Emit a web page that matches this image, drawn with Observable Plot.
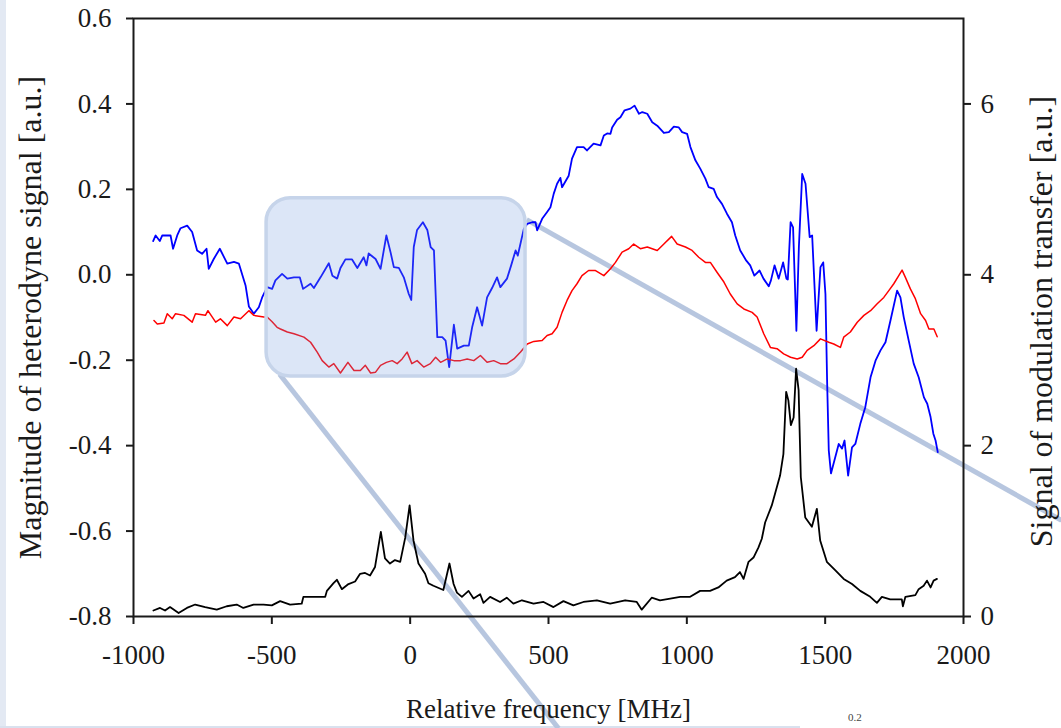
<!DOCTYPE html>
<html>
<head>
<meta charset="utf-8">
<script src="https://cdn.jsdelivr.net/npm/d3@7"></script>
<script src="https://cdn.jsdelivr.net/npm/@observablehq/plot@0.6"></script>
<style>
  html, body { margin: 0; padding: 0; background: #ffffff; width: 1061px; height: 728px; overflow: hidden; position: relative; }
  #strip { position: absolute; left: 0; top: 0; width: 6px; height: 728px; background: #e3e9f3; }
  #bstrip { position: absolute; left: 0; top: 726px; width: 800px; height: 2px; background: #d9e1ee; }
  #chart { position: absolute; left: 0; top: 0; }
  #frag { position: absolute; left: 848px; top: 711px; font: 11px "Liberation Serif", serif; line-height: 12px; color: #444; }
</style>
</head>
<body>
<div id="strip"></div>
<div id="bstrip"></div>
<div id="chart"></div>
<div id="frag">0.2</div>
<script>
// ---- data ----
const blueFreq = [-929,-920,-905,-896,-866,-857,-842,-830,-806,-788,-770,-752,-736,-728,-710,-688,-661,-637,-619,-595,-583,-565,-547,-535,-517,-499,-487,-463,-444,-420,-399,-387,-360,-348,-324,-294,-281,-264,-252,-234,-210,-191,-168,-158,-150,-125,-107,-86,-71,-59,-41,-23,-5,4,13,25,46,62,74,86,98,116,128,141,158,170,194,212,224,242,260,278,296,314,326,350,365,381,389,411,423,441,453,459,477,495,507,519,531,543,549,573,585,603,627,639,663,688,700,712,724,730,748,760,775,796,811,827,839,857,875,893,917,935,953,971,983,1001,1013,1031,1049,1067,1079,1097,1109,1127,1145,1163,1175,1193,1215,1229,1244,1263,1277,1296,1304,1317,1332,1348,1360,1365,1375,1384,1396,1405,1417,1429,1444,1453,1469,1483,1493,1501,1507,1513,1521,1549,1561,1570,1583,1597,1609,1627,1645,1664,1682,1700,1718,1736,1760,1772,1784,1802,1820,1838,1857,1869,1881,1891,1899,1907];
const blueMag = [0.079,0.092,0.079,0.092,0.092,0.061,0.092,0.109,0.115,0.100,0.057,0.049,0.061,0.014,0.037,0.061,0.026,0.030,0.026,-0.025,-0.074,-0.091,-0.076,-0.053,-0.029,-0.033,-0.013,0.002,-0.009,-0.006,-0.006,-0.033,-0.021,-0.031,-0.006,0.027,-0.002,-0.009,0.016,0.036,0.036,0.016,0.041,0.022,0.050,0.037,0.014,0.092,0.053,0.018,0.016,-0.006,-0.045,-0.059,0.065,0.105,0.123,0.105,0.065,0.057,-0.146,-0.146,-0.154,-0.216,-0.117,-0.173,-0.166,-0.166,-0.123,-0.076,-0.119,-0.053,-0.031,-0.006,-0.029,-0.009,0.022,0.057,0.045,0.108,0.119,0.123,0.123,0.104,0.131,0.147,0.158,0.190,0.213,0.227,0.205,0.232,0.272,0.299,0.299,0.291,0.307,0.303,0.326,0.331,0.330,0.345,0.363,0.369,0.385,0.389,0.396,0.377,0.381,0.377,0.357,0.349,0.332,0.334,0.347,0.345,0.334,0.330,0.299,0.268,0.248,0.225,0.205,0.201,0.182,0.166,0.143,0.123,0.092,0.057,0.033,0.022,-0.002,0.010,-0.009,-0.027,-0.013,0.022,-0.009,0.029,-0.009,-0.011,0.123,0.111,-0.131,0.065,0.236,0.213,0.088,0.092,-0.131,0.018,0.029,-0.045,-0.248,-0.411,-0.465,-0.396,-0.407,-0.388,-0.470,-0.404,-0.396,-0.349,-0.310,-0.240,-0.201,-0.177,-0.158,-0.107,-0.037,-0.053,-0.099,-0.154,-0.208,-0.240,-0.287,-0.302,-0.333,-0.372,-0.388,-0.415];

const redFreq = [-926,-914,-890,-878,-860,-848,-818,-788,-776,-740,-731,-703,-686,-661,-637,-613,-583,-565,-529,-517,-499,-481,-469,-444,-420,-384,-360,-336,-318,-294,-276,-252,-225,-203,-180,-162,-143,-125,-107,-86,-65,-47,-29,-11,6,25,49,73,92,110,134,158,182,206,230,254,278,302,326,350,375,399,423,447,477,495,513,531,549,567,585,603,621,645,670,700,724,742,766,790,808,832,857,893,917,945,965,995,1019,1043,1067,1085,1109,1134,1157,1182,1206,1236,1254,1278,1302,1326,1350,1375,1399,1417,1435,1459,1483,1513,1531,1555,1567,1591,1616,1640,1664,1688,1712,1730,1748,1766,1778,1790,1808,1826,1845,1863,1875,1893,1905];
const redMag = [-0.107,-0.115,-0.113,-0.091,-0.103,-0.091,-0.095,-0.111,-0.091,-0.095,-0.084,-0.111,-0.103,-0.119,-0.099,-0.103,-0.084,-0.095,-0.099,-0.099,-0.110,-0.123,-0.127,-0.134,-0.138,-0.146,-0.158,-0.181,-0.201,-0.216,-0.208,-0.230,-0.205,-0.224,-0.224,-0.212,-0.230,-0.228,-0.212,-0.205,-0.201,-0.208,-0.197,-0.181,-0.208,-0.201,-0.216,-0.208,-0.193,-0.205,-0.197,-0.201,-0.201,-0.197,-0.201,-0.189,-0.205,-0.201,-0.208,-0.208,-0.197,-0.181,-0.162,-0.156,-0.154,-0.142,-0.138,-0.123,-0.088,-0.060,-0.037,-0.021,-0.002,0.010,0.010,-0.002,0.014,0.029,0.053,0.061,0.072,0.061,0.065,0.057,0.072,0.090,0.072,0.065,0.057,0.041,0.029,0.029,0.006,-0.017,-0.045,-0.068,-0.080,-0.088,-0.099,-0.138,-0.170,-0.173,-0.185,-0.193,-0.197,-0.193,-0.177,-0.166,-0.150,-0.158,-0.162,-0.170,-0.146,-0.134,-0.111,-0.095,-0.084,-0.068,-0.053,-0.037,-0.021,-0.002,0.011,-0.006,-0.033,-0.056,-0.091,-0.107,-0.127,-0.127,-0.145];

const blackFreq = [-928,-904,-886,-868,-837,-807,-777,-741,-699,-663,-627,-603,-566,-530,-500,-470,-434,-392,-386,-361,-307,-301,-277,-265,-247,-223,-199,-181,-163,-145,-127,-106,-91,-73,-55,-36,-18,-2,12,30,54,66,84,120,142,157,169,187,211,229,253,265,289,325,349,373,404,446,482,518,554,590,626,675,723,777,819,837,873,903,940,976,1012,1048,1084,1114,1144,1174,1192,1205,1223,1241,1259,1271,1283,1307,1319,1337,1349,1359,1367,1376,1386,1395,1404,1412,1428,1452,1470,1482,1506,1537,1567,1597,1627,1663,1687,1705,1735,1777,1781,1790,1826,1838,1856,1868,1881,1892,1904];
const blackMT = [0.07,0.10,0.07,0.11,0.04,0.10,0.14,0.11,0.08,0.12,0.14,0.10,0.14,0.14,0.13,0.18,0.14,0.15,0.23,0.23,0.23,0.30,0.39,0.43,0.32,0.38,0.41,0.50,0.51,0.48,0.58,0.99,0.68,0.62,0.66,0.64,0.92,1.30,0.89,0.62,0.50,0.39,0.36,0.31,0.62,0.38,0.28,0.23,0.30,0.21,0.26,0.16,0.23,0.17,0.22,0.15,0.19,0.15,0.17,0.11,0.18,0.13,0.17,0.19,0.15,0.19,0.17,0.08,0.22,0.19,0.21,0.23,0.23,0.30,0.30,0.34,0.42,0.46,0.52,0.44,0.64,0.69,0.81,0.91,1.10,1.30,1.44,1.65,1.90,2.63,2.53,2.24,2.33,2.90,2.65,1.63,1.16,1.05,1.26,0.89,0.64,0.54,0.44,0.38,0.30,0.23,0.16,0.23,0.20,0.20,0.12,0.23,0.25,0.32,0.36,0.42,0.34,0.42,0.44];

const xTicks = [-1000, -500, 0, 500, 1000, 1500, 2000];
const leftTicks = [-0.8, -0.6, -0.4, -0.2, 0, 0.2, 0.4, 0.6];
const rightTicks = [0, 2, 4, 6];
const xDomain = [-1000, 2000];
const leftDomain = [-0.8, 0.6];
const rightDomain = [0, 7];

const xTitle = "Relative frequency [MHz]";
const leftTitle = "Magnitude of heterodyne signal [a.u.]";
const rightTitle = "Signal of modulation transfer [a.u.]";

// callout (zoom box) in data units
const calloutBox = [{x1: -519, x2: 417, y1: 0.179, y2: -0.238}];
const calloutLinks = [
  {x1: -472, y1: -0.233, x2: 536, y2: -1.062},
  {x1: 421, y1: 0.129, x2: 2354, y2: -0.575}
];

// ---- build ----
const toLeft = d3.scaleLinear().domain(rightDomain).range(leftDomain);
const blue = blueFreq.map((f, i) => ({f, v: blueMag[i]}));
const red = redFreq.map((f, i) => ({f, v: redMag[i]}));
const black = blackFreq.map((f, i) => ({f, v: toLeft(blackMT[i])}));

const FONT = "Liberation Serif, Times New Roman, serif";
const INK = "#1a1a1a";

const chart = Plot.plot({
  width: 1061,
  height: 728,
  marginLeft: 133,
  marginRight: 98,
  marginTop: 18,
  marginBottom: 112,
  style: {fontFamily: FONT, fontSize: "27px", color: INK, background: "transparent", overflow: "visible"},
  x: {domain: xDomain},
  y: {domain: leftDomain},
  marks: [
    Plot.link(calloutLinks, {x1: "x1", y1: "y1", x2: "x2", y2: "y2", stroke: "#b3c3dd", strokeWidth: 5, strokeOpacity: 0.95}),
    Plot.line(blue, {x: "f", y: "v", stroke: "#0000ff", strokeWidth: 1.8}),
    Plot.line(red, {x: "f", y: "v", stroke: "#ff0000", strokeWidth: 1.5}),
    Plot.rect(calloutBox, {x1: "x1", x2: "x2", y1: "y1", y2: "y2", rx: 24, fill: "rgb(115,155,223)", fillOpacity: 0.25, stroke: "#c6d4ea", strokeWidth: 3.5}),
    Plot.line(black, {x: "f", y: "v", stroke: "#000000", strokeWidth: 1.8}),
    Plot.frame({stroke: INK, strokeWidth: 2}),
    Plot.axisX({ticks: xTicks, tickSize: 8, tickPadding: 20, tickFormat: d => String(d), label: null, strokeWidth: 2, fontSize: 27}),
    Plot.axisY({anchor: "left", ticks: leftTicks, tickSize: 7, tickPadding: 15, tickFormat: d => d.toFixed(1), label: null, strokeWidth: 2, fontSize: 27}),
    Plot.axisY({anchor: "right", ticks: rightTicks.map(toLeft), tickSize: 7, tickPadding: 10, tickFormat: d => String(Math.round(toLeft.invert(d))), label: null, strokeWidth: 2, fontSize: 27}),
    Plot.text([xTitle], {frameAnchor: "bottom", textAnchor: "middle", lineAnchor: "middle", dy: 93, fontSize: 27, fill: INK}),
    Plot.text([leftTitle], {frameAnchor: "left", textAnchor: "middle", lineAnchor: "middle", dx: -103, rotate: -90, fontSize: 32, fill: INK}),
    Plot.text([rightTitle], {frameAnchor: "right", textAnchor: "middle", lineAnchor: "middle", dx: 78, dy: 4, rotate: -90, fontSize: 32, fill: INK})
  ]
});
document.getElementById("chart").appendChild(chart);
</script>
</body>
</html>
